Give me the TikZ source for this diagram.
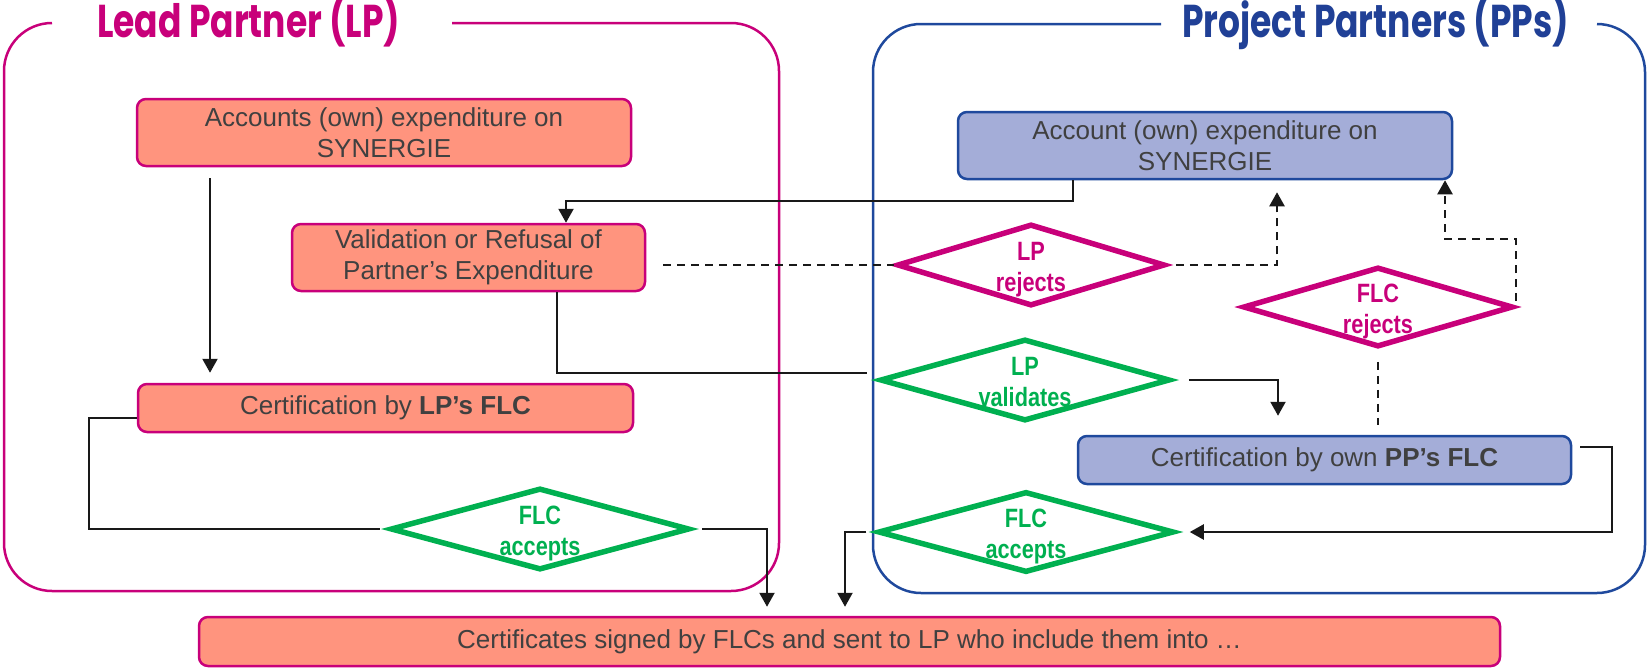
\documentclass[tikz,border=0pt]{standalone}
\usepackage{fontspec}
\setmainfont{Liberation Sans}
\newfontfamily\titlefont[FakeStretch=0.75]{Poppins}
\newfontfamily\diafont[FakeStretch=0.82]{Liberation Sans}
\usetikzlibrary{shapes.geometric,arrows.meta,calc}
\definecolor{lpmag}{RGB}{200,0,122}
\definecolor{lpgreen}{RGB}{0,176,80}
\definecolor{salmon}{RGB}{255,148,126}
\definecolor{ppfill}{RGB}{164,173,216}
\definecolor{ppblue}{RGB}{31,73,157}
\definecolor{pptitlec}{RGB}{32,64,150}
\definecolor{txtgray}{RGB}{64,64,64}
\begin{document}
\begin{tikzpicture}[x=1pt,y=-1pt,
  lpbox/.style={draw=lpmag, fill=salmon, line width=2.5pt, rounded corners=9pt, text=txtgray, align=center, font=\fontsize{26}{31}\selectfont, inner sep=0pt},
  ppbox/.style={lpbox, draw=ppblue, fill=ppfill},
  dia/.style={diamond, draw=#1, line width=5.5pt, inner sep=0pt},
  dtext/.style={text=#1, font=\diafont\bfseries\fontsize{26.5}{26.5}\selectfont, inner sep=0pt, anchor=base},
  frame/.style={line width=2.5pt, rounded corners=48pt},
  ttl/.style={font=\titlefont\bfseries\fontsize{46}{46}\selectfont, inner sep=0pt},
  conn/.style={draw=black!90, line width=2.2pt},
  arr/.style={conn, -{Triangle[length=14pt,width=15pt]}},
  dsh/.style={conn, dash pattern=on 8pt off 6pt},
  darr/.style={dsh, -{Triangle[length=14pt,width=15pt]}},
]
\useasboundingbox (0,0) rectangle (1649,667);

% containers
\draw[frame, draw=lpmag] (452,23) -- (779,23) -- (779,591) -- (4,591) -- (4,23) -- (52,23);
\draw[frame, draw=ppblue] (1161,24) -- (873,24) -- (873,593) -- (1645,593) -- (1645,24) -- (1597,24);
\node[ttl, text=lpmag, anchor=base west] (lptitle) at (97,37) {Lead Partner (LP)};
\node[ttl, text=pptitlec, anchor=base east] (pptitle) at (1569,37) {Project Partners (PPs)};

% boxes
\node[lpbox, minimum width=494pt, minimum height=67pt] (lpacc) at (384,132.5) {Accounts (own) expenditure on\\SYNERGIE};
\node[lpbox, minimum width=353pt, minimum height=67pt] (valid) at (468.5,257.5) {Validation or Refusal of\\Partner’s Expenditure};
\node[lpbox, minimum width=495pt, minimum height=48pt] (certlp) at (385.5,408) {Certification by \textbf{LP’s FLC}};
\node[ppbox, minimum width=494pt, minimum height=67pt] (ppacc) at (1205,145.5) {Account (own) expenditure on\\SYNERGIE};
\node[ppbox, minimum width=493pt, minimum height=48pt] (certpp) at (1324.5,460) {Certification by own \textbf{PP’s FLC}};
\node[lpbox, minimum width=1301pt, minimum height=49pt] (bottom) at (849.5,641.5) {Certificates signed by FLCs and sent to LP who include them into …};

% diamonds
\node[dia=lpmag, minimum width=268pt, minimum height=82pt] (lprej) at (1031,265) {};
\node[dtext=lpmag] (lprejA) at ([yshift=5pt]lprej.center) {LP};
\node[dtext=lpmag] (lprejB) at ([yshift=-26pt]lprej.center) {rejects};
\node[dia=lpmag, minimum width=270pt, minimum height=80pt] (flcrej) at (1378,307) {};
\node[dtext=lpmag] (flcrejA) at ([yshift=5pt]flcrej.center) {FLC};
\node[dtext=lpmag] (flcrejB) at ([yshift=-26pt]flcrej.center) {rejects};
\node[dia=lpgreen, minimum width=290pt, minimum height=82pt] (lpval) at (1025,380) {};
\node[dtext=lpgreen] (lpvalA) at ([yshift=5pt]lpval.center) {LP};
\node[dtext=lpgreen] (lpvalB) at ([yshift=-26pt]lpval.center) {validates};
\node[dia=lpgreen, minimum width=299pt, minimum height=82pt] (flcaccl) at (540,529) {};
\node[dtext=lpgreen] (flcacclA) at ([yshift=5pt]flcaccl.center) {FLC};
\node[dtext=lpgreen] (flcacclB) at ([yshift=-26pt]flcaccl.center) {accepts};
\node[dia=lpgreen, minimum width=296pt, minimum height=81pt] (flcaccp) at (1026,532) {};
\node[dtext=lpgreen] (flcaccpA) at ([yshift=5pt]flcaccp.center) {FLC};
\node[dtext=lpgreen] (flcaccpB) at ([yshift=-26pt]flcaccp.center) {accepts};

% connectors
\coordinate (c1) at (210,0);
\draw[arr, shorten <=11pt, shorten >=10pt] (lpacc.south -| c1) -- (certlp.north -| c1);

\coordinate (b1) at (1073,201);
\coordinate (b2) at (566,201);
\draw[arr] (ppacc.south -| b1) -- (b1) -- (b2) -- (valid.north -| b2);

\draw[dsh, shorten <=17pt] (valid.east |- lprej.west) -- (lprej.west);
\coordinate (d1) at (1277,265);
\draw[darr, shorten <=8pt, shorten >=12pt] (lprej.east) -- (d1) -- (ppacc.south -| d1);

\coordinate (e1) at (1445,239);
\draw[darr, shorten <=6pt] (flcrej.east) |- (e1) -- (ppacc.south -| e1);

\draw[dsh, shorten <=12pt, shorten >=10pt] (flcrej.south) -- (certpp.north -| flcrej.south);

\coordinate (f1) at (557,373);
\draw[conn, shorten >=10pt] (valid.south -| f1) -- (f1) -- (lpval.west |- f1);

\coordinate (g1) at (1278,380);
\draw[arr, shorten <=16pt, shorten >=19pt] (lpval.east) -- (g1) -- (certpp.north -| g1);

\coordinate (h1) at (89,418);
\draw[conn, shorten >=8pt] (certlp.west |- h1) -- (h1) |- (flcaccl.west);

\coordinate (i1) at (767,532);
\draw[arr, shorten <=10pt, shorten >=9pt] (flcaccl.east) -| (bottom.north -| i1);

\coordinate (j1) at (1612,447);
\draw[arr, shorten <=8pt, shorten >=13pt] (certpp.east |- j1) -- (j1) |- (flcaccp.east);

\coordinate (k1) at (845,530);
\draw[arr, shorten <=9pt, shorten >=9pt] (flcaccp.west) -| (bottom.north -| k1);
\end{tikzpicture}
\end{document}
